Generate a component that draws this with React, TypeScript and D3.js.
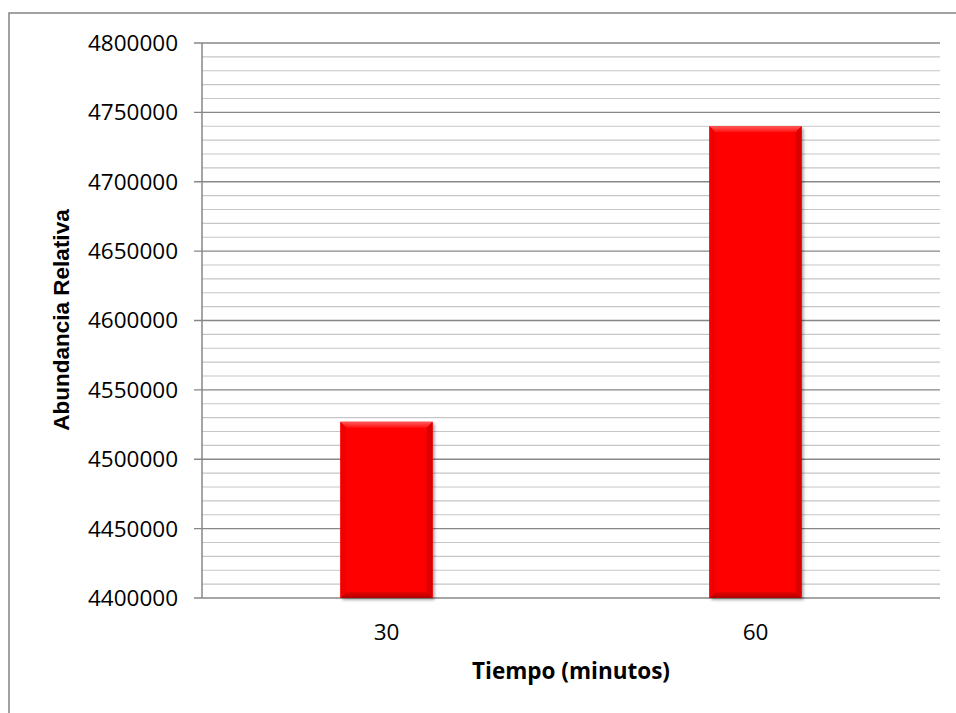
import React from "react";
import * as d3 from "d3";

const categories = ["30", "60"];
const values = [4527000, 4740000];
const yTicks = [4400000, 4450000, 4500000, 4550000, 4600000, 4650000, 4700000, 4750000, 4800000];
const yTitle = "Abundancia Relativa";
const xTitle = "Tiempo (minutos)";

const W = 956;
const H = 713;
const M = { left: 202, right: 940, top: 43, bottom: 598 };

export default function App() {
  const x = d3.scaleBand<string>().domain(categories).range([M.left, M.right]).paddingInner(0.75).paddingOuter(0.375);
  const y = d3.scaleLinear().domain([4400000, 4800000]).range([M.bottom, M.top]);
  const minor = d3.range(4400000, 4800001, 10000).filter((v) => v % 50000 !== 0);
  const bw = x.bandwidth();
  const bev = 6;

  return (
    <svg width={W} height={H} style={{ position: "absolute", left: 0, top: 0, background: "#fff" }}>
      <defs>
        <filter id="sh" x="-20%" y="-20%" width="140%" height="140%">
          <feDropShadow dx="2" dy="2" stdDeviation="1.6" floodColor="#000" floodOpacity="0.35" />
        </filter>
        <linearGradient id="topG" x1="0" y1="0" x2="0" y2="1">
          <stop offset="0" stopColor="#ff5a5a" />
          <stop offset="1" stopColor="#ff1010" />
        </linearGradient>
        <linearGradient id="botG" x1="0" y1="0" x2="0" y2="1">
          <stop offset="0" stopColor="#e80000" />
          <stop offset="1" stopColor="#b00000" />
        </linearGradient>
      </defs>
      <rect x={9} y={13} width={1000} height={1000} fill="none" stroke="#8a8a8a" strokeWidth={1.6} />
      {minor.map((v) => (
        <line key={"m" + v} x1={M.left} x2={M.right} y1={y(v)} y2={y(v)} stroke="#c6c6c6" strokeWidth={1.2} />
      ))}
      {yTicks.map((v) => (
        <line key={"g" + v} x1={194} x2={M.right} y1={y(v)} y2={y(v)} stroke="#878787" strokeWidth={1.4} />
      ))}
      <line x1={M.left} x2={M.left} y1={M.top} y2={M.bottom} stroke="#878787" strokeWidth={1.5} />
      {yTicks.map((v) => (
        <text key={"t" + v} x={178} y={y(v)} dy="0.35em" textAnchor="end" fontFamily="'Open Sans', sans-serif" fontSize={22.5} fill="#000">
          {v}
        </text>
      ))}
      {categories.map((c, i) => {
        const x0 = x(c)!;
        const x1 = x0 + bw;
        const y0 = y(values[i]);
        const y1 = y(4400000);
        return (
          <g key={c}>
            <rect x={x0} y={y0} width={bw} height={y1 - y0} fill="#ff0000" filter="url(#sh)" />
            <polygon points={`${x0},${y0} ${x1},${y0} ${x1 - bev},${y0 + bev} ${x0 + bev},${y0 + bev}`} fill="url(#topG)" />
            <polygon points={`${x0},${y1} ${x1},${y1} ${x1 - bev},${y1 - bev} ${x0 + bev},${y1 - bev}`} fill="url(#botG)" />
            <polygon points={`${x0},${y0} ${x0 + bev},${y0 + bev} ${x0 + bev},${y1 - bev} ${x0},${y1}`} fill="#f20000" />
            <polygon points={`${x1},${y0} ${x1 - bev},${y0 + bev} ${x1 - bev},${y1 - bev} ${x1},${y1}`} fill="#dd0000" />
            <text x={x0 + bw / 2} y={640} textAnchor="middle" fontFamily="'Open Sans', sans-serif" fontSize={22.5} fill="#000">
              {c}
            </text>
          </g>
        );
      })}
      <text x={(M.left + M.right) / 2} y={679} textAnchor="middle" fontFamily="'Open Sans', sans-serif" fontWeight="bold" fontSize={22.5} fill="#000">
        {xTitle}
      </text>
      <text transform={`translate(69,320) rotate(-90)`} textAnchor="middle" fontFamily="'Liberation Sans', Arial, sans-serif" fontWeight="bold" fontSize={22.5} fill="#000">
        {yTitle}
      </text>
    </svg>
  );
}
